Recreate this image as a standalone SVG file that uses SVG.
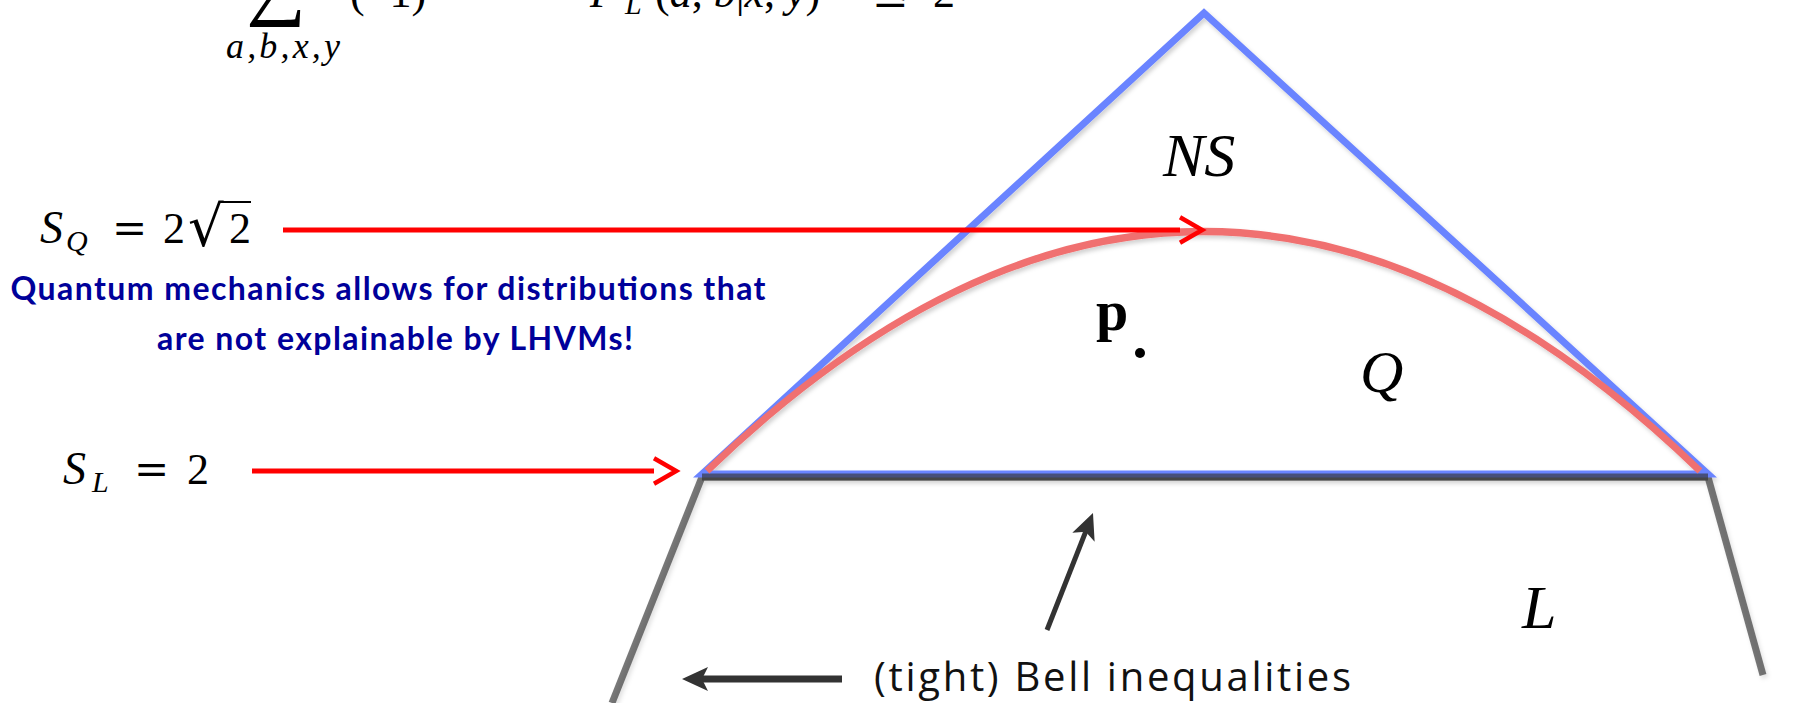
<svg xmlns="http://www.w3.org/2000/svg" width="1798" height="703" viewBox="0 0 1798 703">
<defs>
<style>
.math{font-family:"Liberation Serif","DejaVu Serif",serif;fill:#000}
.it{font-style:italic}
.sym{font-family:"DejaVu Serif","Liberation Serif",serif}
.cap{font-family:Lato,"Liberation Sans",sans-serif;font-weight:700;fill:#00009a;font-size:32px}
.bell{font-family:"Open Sans","Noto Sans",sans-serif;font-size:40px;fill:#111}
.redl{stroke:#ff0000;stroke-width:5;fill:none}
.blk{stroke:#333;fill:none}
.edge{fill:none;stroke-linejoin:miter;stroke-linecap:butt}
</style>
<filter id="sh" x="-5%" y="-5%" width="110%" height="110%">
<feDropShadow dx="2" dy="3" stdDeviation="2" flood-color="#000" flood-opacity="0.18"/>
</filter>
<marker id="chev" markerUnits="userSpaceOnUse" markerWidth="30" markerHeight="30" viewBox="-2 -2 26 27" refX="0" refY="11.5" orient="auto" overflow="visible">
<path d="M0,0 L20,11.5 L0,23" fill="none" stroke="#ff0000" stroke-width="4"/>
</marker>
<marker id="bh" markerUnits="userSpaceOnUse" markerWidth="26" markerHeight="26" viewBox="0 0 26 26" refX="8" refY="13" orient="auto" overflow="visible">
<path d="M0,1 L26,13 L0,25 L6,13 Z" fill="#333"/>
</marker>
</defs>
<rect width="1798" height="703" fill="#fff"/>

<g id="regions" filter="url(#sh)">
<polyline id="local-set" class="edge" points="612,703 702,477 1708,477 1763,675" stroke="#333" stroke-opacity="0.65" stroke-width="7"/>
<polygon id="ns-set" class="edge" points="702,474 1204,13 1708,474" stroke="#6a84ff" stroke-width="7"/>
<polyline id="ns-base-shade" class="edge" points="702,477 1708,477" stroke="#333" stroke-opacity="0.65" stroke-width="7"/>
<path id="quantum-set" d="M707,471 Q1204,-8 1700,471" fill="none" stroke="#f07070" stroke-width="7"/>
</g>

<g id="formula" class="math">
<text x="246" y="9" font-size="84">∑</text>
<text x="226" y="58" font-size="36" class="it" textLength="114" lengthAdjust="spacing">a,b,x,y</text>
<text x="350" y="7" font-size="44">(−1)</text>
<text y="7" font-size="44"><tspan x="590" class="it">P</tspan><tspan x="625" y="14" font-size="30" class="it">L</tspan><tspan x="655" y="7">(</tspan><tspan class="it">a</tspan><tspan>, </tspan><tspan class="it">b</tspan><tspan>|</tspan><tspan class="it">x</tspan><tspan>, </tspan><tspan class="it">y</tspan><tspan>)</tspan></text>
<text x="872" y="7" font-size="44" class="sym">≤</text>
<text x="933" y="7" font-size="44">2</text>
</g>

<g id="sq-label" class="math">
<text y="243" font-size="46"><tspan x="40" class="it">S</tspan><tspan x="66" y="251" font-size="30" class="it">Q</tspan></text>
<text x="112" y="243" font-size="42" class="sym">=</text>
<text x="163" y="243" font-size="44">2</text>
<text x="188" y="246" font-size="56" class="sym">√</text>
<text x="229" y="243" font-size="44">2</text>
<line x1="222" y1="202" x2="251" y2="202" stroke="#000" stroke-width="2"/>
</g>

<g id="caption">
<text class="cap" x="388" y="300" text-anchor="middle" textLength="755" lengthAdjust="spacing">Quantum mechanics allows for distributions that</text>
<text class="cap" x="395" y="350" text-anchor="middle" textLength="476" lengthAdjust="spacing">are not explainable by LHVMs!</text>
</g>

<g id="sl-label" class="math">
<text y="484" font-size="46"><tspan x="63" class="it">S</tspan><tspan x="92" y="492" font-size="30" class="it">L</tspan></text>
<text x="134" y="484" font-size="42" class="sym">=</text>
<text x="187" y="484" font-size="44">2</text>
</g>

<g id="ns-label"><text class="math it" x="1163" y="176" font-size="62">NS</text></g>
<g id="q-label"><text class="math it" x="1360" y="392" font-size="60">Q</text></g>
<g id="l-label"><text class="math it" x="1522" y="628" font-size="62">L</text></g>
<g id="p-point">
<text class="math" x="1096" y="330" font-size="58" font-weight="700">p</text>
<circle cx="1140" cy="353" r="5" fill="#000"/>
</g>
<g id="bell-label"><text class="bell" x="874" y="691" textLength="477" lengthAdjust="spacing">(tight) Bell inequalities</text></g>

<g id="connectors">
<path id="arrow-sq" class="redl" d="M283,230 H1180" marker-end="url(#chev)"/>
<path id="arrow-sl" class="redl" d="M252,471 H654" marker-end="url(#chev)"/>
<path id="arrow-bell-left" class="blk" stroke-width="7" d="M842,679 H700" marker-end="url(#bh)"/>
<path id="arrow-bell-up" class="blk" stroke-width="5" d="M1047,630 L1086.4,529.8" marker-end="url(#bh)"/>
</g>
</svg>
